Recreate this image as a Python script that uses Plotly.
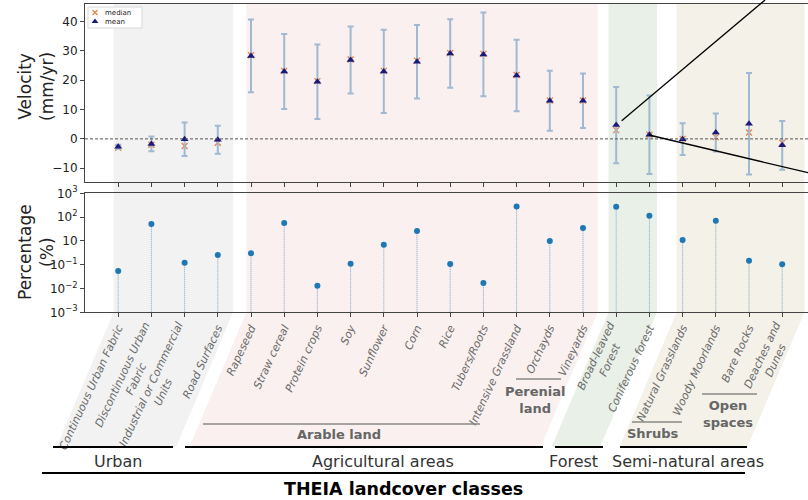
import plotly.graph_objects as go
import numpy as np

NB = "\u00a0"
categories = ["Continuous Urban Fabric", "Discontinuous Urban<br>Fabric" + NB * 11,
              "Industrial or Commercial<br>Units" + NB * 16, "Road Surfaces", "Rapeseed",
              "Straw cereal", "Protein crops", "Soy", "Sunflower", "Corn", "Rice",
              "Tubers/Roots", "Intensive Grassland", "Orchayds", "Vineyards",
              "Broad-leaved<br>Forest" + NB * 5, "Coniferous forest", "Natural Grasslands",
              "Woody Moorlands", "Bare Rocks", "Deaches and<br>Dunes" + NB * 5]
mean_velocity = [-2.7, -1.7, -0.1, -0.3, 28.3, 23.0, 19.5, 26.9, 23.0, 26.3, 29.1,
                 28.8, 21.6, 13.0, 13.0, 4.7, 1.4, -0.1, 2.2, 5.2, -2.2]
median_velocity = [-3.0, -2.0, -2.4, -1.3, 28.5, 23.2, 19.7, 27.1, 23.2, 26.7, 29.3,
                   29.0, 21.8, 13.1, 13.1, 3.0, 1.4, 0.0, 0.6, 2.2, -1.3]
std_velocity = [0.7, 2.5, 5.7, 4.8, 12.4, 12.8, 12.7, 11.4, 14.2, 12.5, 11.7,
                14.3, 12.2, 10.2, 9.3, 13.0, 13.4, 5.4, 6.5, 17.3, 8.3]
percentage = [0.054, 51, 0.145, 0.66, 0.91, 56, 0.013, 0.12, 4.8, 26, 0.115,
              0.017, 282, 10, 35, 275, 115, 11, 71, 0.21, 0.11]
pct_tick_exponents = [-3, -2, -1, 1, 2, 3]
pct_tick_labels = ["10<sup>−3</sup>", "10<sup>−2</sup>", "10<sup>−1</sup>", "10",
                   "10<sup>2</sup>", "10<sup>3</sup>"]
vel_ticks = [-10, 0, 10, 20, 30, 40]

groups = [("Urban", -0.14, 3.46, "#f2f2f2"),
          ("Agricultural areas", 3.86, 14.44, "#f9f0ef"),
          ("Forest", 14.77, 16.23, "#e9f0e7"),
          ("Semi-natural areas", 16.82, 20.67, "#f3f1e8")]

W, H = 808, 500
n = len(categories)
xi = list(range(n))
XMIN, XMAX = -1.0, 20.777
XDOM = [85 / W, 1.0]
top_dom = [1 - 182 / H, 1 - 4 / H]
bot_dom = [1 - 312.3 / H, 1 - 193.3 / H]

levels = np.interp(np.log10(percentage), pct_tick_exponents, list(range(6)))

FONT = "DejaVu Sans"
MED_COL = "#e8804a"
MEAN_COL = "#1a1a7a"
fig = go.Figure()

fig.add_trace(go.Scatter(
    x=xi, y=median_velocity, mode="markers", name="median", showlegend=False,
    marker=dict(symbol="x-thin", size=6, line=dict(color=MED_COL, width=1.3), color=MED_COL),
    xaxis="x", yaxis="y"))
fig.add_trace(go.Scatter(
    x=xi, y=mean_velocity, mode="markers", name="mean", showlegend=False,
    marker=dict(symbol="triangle-up", size=7, color=MEAN_COL),
    error_y=dict(type="data", array=std_velocity, color="#a0b9d2", thickness=2, width=3),
    xaxis="x", yaxis="y"))

sx, sy = [], []
for i, lv in zip(xi, levels):
    sx += [i, i, None]
    sy += [0, lv, None]
fig.add_trace(go.Scatter(x=sx, y=sy, mode="lines", showlegend=False,
                         line=dict(color="#7aa6cf", width=1, dash="1px,1px"),
                         xaxis="x2", yaxis="y2", hoverinfo="skip"))
fig.add_trace(go.Scatter(x=xi, y=levels, mode="markers", showlegend=False,
                         marker=dict(color="#1f77b4", size=6),
                         xaxis="x2", yaxis="y2"))

# custom compact legend (pixel overlay axes)
fig.add_trace(go.Scatter(x=[95], y=[12.5], mode="markers", showlegend=False, hoverinfo="skip",
                         marker=dict(symbol="x-thin", size=5, line=dict(color=MED_COL, width=1.2)),
                         xaxis="x3", yaxis="y3"))
fig.add_trace(go.Scatter(x=[95], y=[21.5], mode="markers", showlegend=False, hoverinfo="skip",
                         marker=dict(symbol="triangle-up", size=6, color=MEAN_COL),
                         xaxis="x3", yaxis="y3"))

def px(i):
    return XDOM[0] + (i - XMIN) / (XMAX - XMIN) * (XDOM[1] - XDOM[0])

shapes = []
shift = 57 / W
y_top = top_dom[1]
y_mid = bot_dom[0]
y_bot = 1 - 447 / H
for name, a, b, col in groups:
    x0, x1 = px(a), px(b)
    shapes.append(dict(type="path", xref="paper", yref="paper", layer="below",
                       path=f"M {x0},{y_top} L {x1},{y_top} L {x1},{y_mid} L {x1-shift},{y_bot} "
                            f"L {x0-shift},{y_bot} L {x0},{y_mid} Z",
                       fillcolor=col, line=dict(width=0)))

# legend box
shapes.append(dict(type="rect", xref="paper", yref="paper", layer="below",
                   x0=88 / W, x1=142 / W, y0=1 - 28 / H, y1=1 - 7 / H,
                   fillcolor="white", line=dict(color="#d8d8d8", width=1)))

shapes.append(dict(type="line", xref="paper", yref="y", x0=XDOM[0], x1=XDOM[1], y0=0, y1=0,
                   line=dict(color="#555", width=1, dash="3px,2px")))

def hline(x0p, x1p, yp, color="black", width=2.2):
    shapes.append(dict(type="line", xref="paper", yref="paper",
                       x0=x0p / W, x1=x1p / W, y0=1 - yp / H, y1=1 - yp / H,
                       line=dict(color=color, width=width)))

hline(53, 173, 447)
hline(185, 543, 447)
hline(555, 603, 447)
hline(620, 747, 447)
hline(42, 745, 473)
hline(203, 480, 424, "#888", 1.3)
hline(516, 561, 379, "#888", 1.3)
hline(632, 682, 422, "#888", 1.3)
hline(702, 757, 394, "#888", 1.3)

for (xa, ya, xb, yb) in [(621.7, 120.7, 765, 0), (649, 135, 808, 172.7)]:
    shapes.append(dict(type="line", xref="paper", yref="paper",
                       x0=xa / W, y0=1 - ya / H, x1=xb / W, y1=1 - yb / H,
                       line=dict(color="black", width=1.3)))

annotations = []
def ann(text, x, y, size, color="#333", bold=False, angle=0, xanchor="center"):
    annotations.append(dict(text=f"<b>{text}</b>" if bold else text, x=x / W, y=1 - y / H,
                            xref="paper", yref="paper", showarrow=False, textangle=angle,
                            font=dict(family=FONT, size=size, color=color),
                            xanchor=xanchor, yanchor="middle"))

ann("median", 103, 12.5, 7, color="#222", xanchor="left")
ann("mean", 103, 21.5, 7, color="#222", xanchor="left")
ann("Urban", 118, 461, 16)
ann("Agricultural areas", 383, 461, 16)
ann("Forest", 573, 461, 16)
ann("Semi-natural areas", 688, 461, 16)
ann("THEIA landcover classes", 403, 489, 17.5, color="black", bold=True)
ann("Arable land", 339, 434, 13, color="#666", bold=True)
ann("Perenial<br>land", 535, 400, 13, color="#666", bold=True)
ann("Shrubs", 653, 433, 13, color="#666", bold=True)
ann("Open<br>spaces", 728, 414, 13, color="#666", bold=True)
ann("Velocity<br>(mm/yr)", 36, 87, 17, color="#222", angle=-90)
ann("Percentage<br>(%)", 36, 252, 17, color="#222", angle=-90)

axis_common = dict(showline=True, mirror=True, linecolor="#444", linewidth=1,
                   ticks="outside", ticklen=4, tickcolor="#444", showgrid=False,
                   zeroline=False, automargin=False, fixedrange=True,
                   tickfont=dict(family=FONT, size=12, color="#222"))

fig.update_layout(
    width=W, height=H, margin=dict(l=0, r=0, t=0, b=0, pad=0, autoexpand=False),
    paper_bgcolor="white", plot_bgcolor="rgba(0,0,0,0)",
    xaxis=dict(domain=XDOM, range=[XMIN, XMAX], anchor="y", tickvals=xi,
               showticklabels=False, **axis_common),
    yaxis=dict(domain=top_dom, range=[-14.7, 46], anchor="x", tickvals=vel_ticks,
               **axis_common),
    xaxis2=dict(domain=XDOM, range=[XMIN, XMAX], anchor="y2", tickvals=xi,
                ticktext=[f"<i>{c}</i>" for c in categories], tickangle=-65,
                **{**axis_common, "tickfont": dict(family=FONT, size=11, color="#6a6a6a")}),
    yaxis2=dict(domain=bot_dom, range=[0, 5], anchor="x2", tickvals=list(range(6)),
                ticktext=pct_tick_labels, **axis_common),
    xaxis3=dict(domain=[0, 1], range=[0, W], anchor="y3", visible=False, fixedrange=True),
    yaxis3=dict(domain=[0, 1], range=[H, 0], anchor="x3", visible=False, fixedrange=True),
    shapes=shapes, annotations=annotations,
    showlegend=False,
)

fig.write_html("out.html", config={"displayModeBar": False},
               post_script="document.body.style.margin='0';document.body.style.overflow='hidden';")
